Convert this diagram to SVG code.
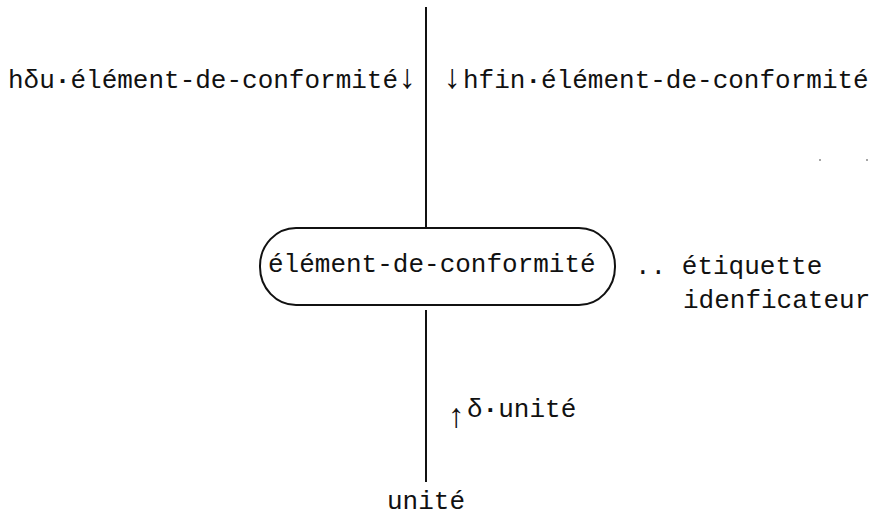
<svg xmlns="http://www.w3.org/2000/svg" width="874" height="516" viewBox="0 0 874 516">
<style>
.t{font-family:"Liberation Mono","DejaVu Sans Mono",monospace;font-size:26px;fill:#111;}
.ar{font-size:34px;}
.dot{font-weight:bold;}
.ln{stroke:#111;stroke-width:2;fill:none;}
</style>
<rect width="874" height="516" fill="#fff"/>
<g id="connectors">
<line class="ln" x1="426" y1="7" x2="426" y2="228"/>
<line class="ln" x1="426" y1="310" x2="426" y2="482"/>
<text class="t" x="8" y="88">hδu<tspan class="dot">·</tspan>élément-de-conformité<tspan class="ar" x="397">↓</tspan></text>
<text class="t" y="88"><tspan class="ar" x="442">↓</tspan><tspan x="463">hfin<tspan class="dot">·</tspan>élément-de-conformité</tspan></text>
<text class="t" y="417"><tspan class="ar" x="446" dy="10">↑</tspan><tspan x="467" dy="-10">δ<tspan class="dot">·</tspan>unité</tspan></text>
</g>
<g id="node-element">
<rect class="ln" x="260" y="228" width="355" height="77" rx="36" ry="38"/>
<text class="t" x="268" y="272">élément-de-conformité</text>
<text class="t" x="635" y="274">.. étiquette</text>
<text class="t" x="683" y="308">idenficateur</text>
</g>
<g id="node-unite">
<text class="t" x="387" y="509">unité</text>
</g>
<circle cx="820" cy="160" r="1" fill="#888"/>
<circle cx="867" cy="160" r="1" fill="#888"/>
</svg>
